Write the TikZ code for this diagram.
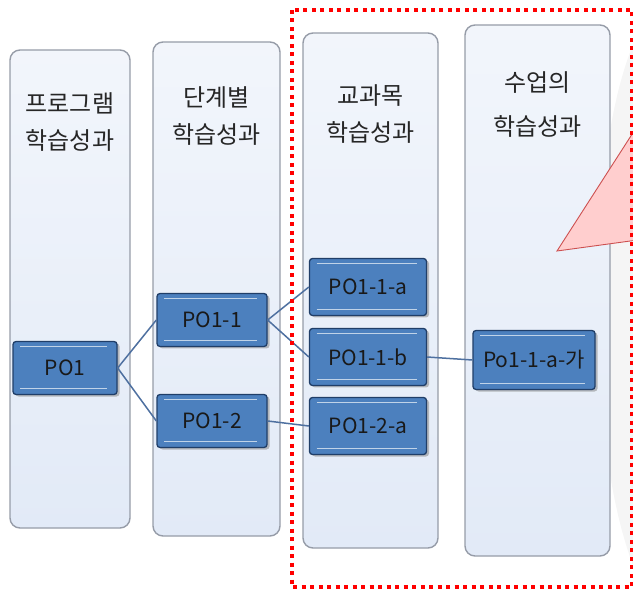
\documentclass[tikz,border=0pt]{standalone}
\usepackage{fontspec}
\newfontfamily\kr{Noto Sans CJK KR}
\usetikzlibrary{positioning, shadows}
\definecolor{panelfill}{RGB}{226,234,247}
\definecolor{paneldraw}{RGB}{150,156,168}
\definecolor{boxfill}{RGB}{76,128,190}
\definecolor{boxdraw}{RGB}{32,62,104}
\definecolor{linkc}{RGB}{78,112,160}
\definecolor{callfill}{RGB}{255,206,206}
\definecolor{calldraw}{RGB}{205,80,80}
\tikzset{
  panel1/.style = {
    shape = rectangle,
    draw = paneldraw,
    line width = 1.4pt,
    rounded corners = 10pt,
    top color = panelfill!45!white,
    bottom color = panelfill,
  }
}
\tikzset{
  head1/.style = {
    align = center,
    text = black!85,
    font = \kr\fontsize{24}{37}\selectfont,
  }
}
\tikzset{
  box1/.style = {
    shape = rectangle,
    draw = boxdraw,
    line width = 1.3pt,
    rounded corners = 3pt,
    fill = boxfill,
    text = black!90,
    minimum width = 104pt,
    minimum height = 53pt,
    font = \kr\fontsize{21}{24}\selectfont,
    drop shadow = {opacity = 0.5, shadow xshift = 2.5pt, shadow yshift = -2pt},
    path picture = {
      \draw[boxfill!35!white, line width = 1.6pt]
        ([xshift = 7pt, yshift = -5pt]path picture bounding box.north west) --
        ([xshift = -10pt, yshift = -5pt]path picture bounding box.north east);
      \draw[boxfill!35!white, line width = 1.6pt]
        ([xshift = 7pt, yshift = 6pt]path picture bounding box.south west) --
        ([xshift = -10pt, yshift = 6pt]path picture bounding box.south east);
    },
  }
}
\tikzset{
  link1/.style = {
    draw = linkc, line width = 1.5pt,
  }
}
\begin{document}
\begin{tikzpicture}[x = 1pt, y = -1pt]
        \useasboundingbox (0,0) rectangle (633,591);
        % faint background shape
        \fill[gray!8] (633,45) .. controls (585,160) and (585,440) .. (633,565) -- cycle;
        % columns
        \node[panel1, minimum width = 120pt, minimum height = 478pt](c1) at (70,289){};
        \node[panel1, minimum width = 127pt, minimum height = 494pt](c2) at (216.5,289){};
        \node[panel1, minimum width = 135pt, minimum height = 515pt](c3) at (370.5,290.5){};
        \node[panel1, minimum width = 145pt, minimum height = 531pt](c4) at (537.5,290.5){};
        \node[head1, below = 40pt of c1.north](h1){프로그램\\학습성과};
        \node[head1, below = 42pt of c2.north](h2){단계별\\학습성과};
        \node[head1, below = 49pt of c3.north](h3){교과목\\학습성과};
        \node[head1, below = 44pt of c4.north, font = \kr\fontsize{24}{44}\selectfont](h4){수업의\\학습성과};
        % boxes
        \node[box1](p1) at (65,368){PO1};
        \node[box1, minimum width = 110pt](p11) at (212,320){PO1-1};
        \node[box1, minimum width = 110pt](p12) at (212,421){PO1-2};
        \node[box1, minimum width = 117pt, minimum height = 57pt](p11a) at (368,287){PO1-1-a};
        \node[box1, minimum width = 117pt, minimum height = 57pt](p11b) at (368,357){PO1-1-b};
        \node[box1, minimum width = 117pt, minimum height = 57pt](p12a) at (368,426){PO1-2-a};
        \node[box1, minimum width = 122pt, minimum height = 59pt, inner sep = 1pt](p11ag) at (534,360){Po1-1-a-가};
        \draw[link1](p1.east) -- (p11.west);
        \draw[link1](p1.east) -- (p12.west);
        \draw[link1](p11.east) -- (p11a.west);
        \draw[link1](p11.east) -- (p11b.west);
        \draw[link1](p12.east) -- (p12a.west);
        \draw[link1](p11b.east) -- (p11ag.west);
        % callout
        \filldraw[fill = callfill, draw = calldraw, line width = 0.9pt]
          (557,251) -- (645,114) -- (645,239) -- cycle;
        % frame
        \draw[red, line width = 4.5pt, dash pattern = on 4pt off 4.5pt]
          (292,10) rectangle (632,587);
\end{tikzpicture}
\end{document}
